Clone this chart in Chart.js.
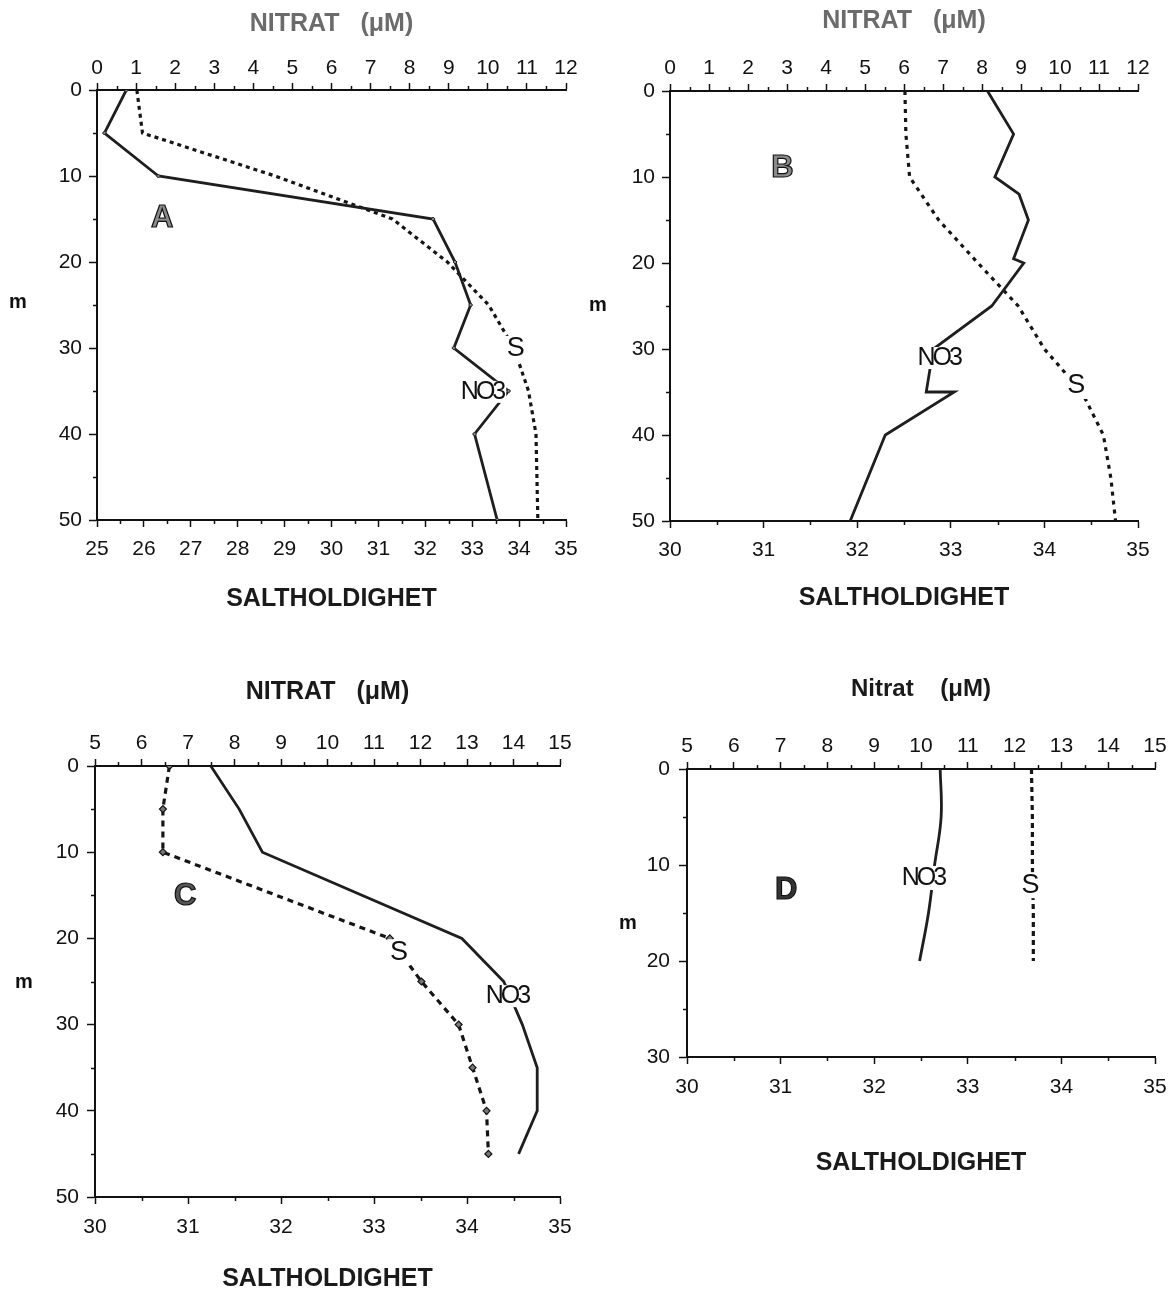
<!DOCTYPE html>
<html>
<head>
<meta charset="utf-8">
<script src="https://cdn.jsdelivr.net/npm/chart.js@4.4.1/dist/chart.umd.min.js"></script>
<style>
  html,body{margin:0;padding:0;background:#fff;}
  body{width:1172px;height:1292px;position:relative;overflow:hidden;}
  canvas{position:absolute;}
  #cA{left:0;top:0;}
  #cB{left:590px;top:0;}
  #cC{left:0;top:640px;}
  #cD{left:590px;top:640px;}
</style>
</head>
<body>
<canvas id="cA" width="590" height="640"></canvas>
<canvas id="cB" width="582" height="640"></canvas>
<canvas id="cC" width="590" height="652"></canvas>
<canvas id="cD" width="582" height="652"></canvas>
<script>
// ---------- DATA ----------
// Panel A
const depthA_NO3 = [0, 5, 10, 15, 20, 25, 30, 35, 40, 50];
const nitrateA   = [0.75, 0.19, 1.57, 8.6, 9.16, 9.56, 9.13, 10.53, 9.66, 10.24];
const depthA_S   = [0, 5, 10, 15, 20, 25, 30, 35, 40, 45, 50];
const salinityA  = [25.85, 25.97, 28.8, 31.3, 32.47, 33.35, 33.89, 34.2, 34.36, 34.38, 34.4];
// Panel B
const depthB_NO3 = [0, 5, 10, 12, 15, 19.5, 20, 25, 30, 35, 35, 40, 50];
const nitrateB   = [8.14, 8.81, 8.33, 8.95, 9.19, 8.81, 9.07, 8.25, 6.75, 6.57, 7.29, 5.52, 4.62];
const depthB_S   = [0, 5, 10, 15, 20, 25, 30, 35, 40, 45, 50];
const salinityB  = [32.51, 32.52, 32.56, 32.87, 33.29, 33.72, 34.0, 34.4, 34.63, 34.71, 34.76];
// Panel C
const depthC_NO3 = [0, 5, 10, 20, 25, 30, 35, 40, 45];
const nitrateC   = [7.49, 8.1, 8.6, 12.89, 13.79, 14.19, 14.51, 14.51, 14.11];
const depthC_S   = [0, 5, 10, 20, 25, 30, 35, 40, 45];
const salinityC  = [30.8, 30.73, 30.73, 33.17, 33.51, 33.91, 34.06, 34.21, 34.23];
// Panel D
const depthD     = [0, 5, 10, 15, 20];
const nitrateD   = [10.41, 10.43, 10.29, 10.16, 9.97];
const salinityD  = [33.68, 33.69, 33.69, 33.7, 33.7];

// axis text
const nitrateTitleUpper = 'NITRAT   (\u03BCM)';
const nitrateTitleLower = 'Nitrat    (\u03BCM)';
const salinityTitle = 'SALTHOLDIGHET';
const depthTitle = 'm';

// ---------- helpers ----------
const FAMILY = '"Liberation Sans", Arial, Helvetica, sans-serif';
Chart.defaults.font.family = FAMILY;
const pts = (xs, ys) => xs.map((x, i) => ({x: x, y: ys[i]}));

const minorTicks = {
  id: 'minorTicks',
  afterDraw(chart) {
    const ctx = chart.ctx;
    ctx.save();
    ctx.strokeStyle = '#111';
    ctx.lineWidth = 1.5;
    Object.values(chart.scales).forEach(sc => {
      const t = sc.ticks;
      for (let i = 0; i < t.length - 1; i++) {
        const v = (t[i].value + t[i + 1].value) / 2;
        const p = Math.round(sc.getPixelForValue(v)) + 0.5;
        ctx.beginPath();
        if (sc.isHorizontal()) {
          const y0 = sc.position === 'top' ? sc.bottom : sc.top;
          const d = sc.position === 'top' ? -4 : 4;
          ctx.moveTo(p, y0); ctx.lineTo(p, y0 + d);
        } else {
          ctx.moveTo(sc.right, p); ctx.lineTo(sc.right - 4, p);
        }
        ctx.stroke();
      }
    });
    ctx.restore();
  }
};

const panelText = {
  id: 'panelText',
  afterDatasetsDraw(chart, args, opts) {
    const ctx = chart.ctx;
    const xs = chart.scales.xs, y = chart.scales.y;
    (opts.items || []).forEach(it => {
      ctx.save();
      ctx.font = it.font;
      if ('letterSpacing' in ctx) ctx.letterSpacing = it.spacing || '0px';
      const px = xs.getPixelForValue(it.x), py = y.getPixelForValue(it.y);
      const w = ctx.measureText(it.text).width;
      if (it.bg) {
        ctx.fillStyle = '#fff';
        ctx.fillRect(px - w / 2 - 3, py - it.bg / 2, w + 6, it.bg);
      }
      ctx.textAlign = 'center';
      ctx.textBaseline = 'middle';
      ctx.fillStyle = it.color || '#111';
      ctx.fillText(it.text, px, py);
      if (it.stroke) {
        ctx.strokeStyle = it.stroke;
        ctx.lineWidth = 1.2;
        ctx.strokeText(it.text, px, py);
      }
      ctx.restore();
    });
    if (opts.side) {
      ctx.save();
      ctx.font = 'bold 20px ' + FAMILY;
      ctx.fillStyle = '#111';
      ctx.textAlign = 'center';
      ctx.textBaseline = 'middle';
      ctx.fillText(opts.side.text, opts.side.x, y.getPixelForValue(opts.side.y));
      ctx.restore();
    }
  }
};

function makePanel(id, p) {
  const tickFont = {family: FAMILY, size: 21};
  const datasets = [
    {
      label: 'NO3', xAxisID: 'xn', yAxisID: 'y',
      data: pts(p.nitrate, p.depthN),
      showLine: true, borderColor: '#1e1e1e', borderWidth: 2.8,
      tension: p.tensionN || 0,
      pointRadius: p.nPointR || 0, pointStyle: 'rectRot',
      pointBackgroundColor: '#888', pointBorderColor: '#222', pointBorderWidth: 1
    },
    {
      label: 'S', xAxisID: 'xs', yAxisID: 'y',
      data: pts(p.salinity, p.depthS),
      showLine: true, borderColor: '#151515', borderWidth: 3.2,
      borderDash: p.dash, tension: 0,
      pointRadius: p.sPointR || 0, pointStyle: 'rectRot',
      pointBackgroundColor: '#777', pointBorderColor: '#111', pointBorderWidth: 1.2
    }
  ];
  return new Chart(document.getElementById(id), {
    type: 'scatter',
    data: {datasets},
    plugins: [minorTicks, panelText],
    options: {
      responsive: false,
      animation: false,
      devicePixelRatio: 1,
      layout: {padding: {left: 0, top: 0, right: p.padR, bottom: 0}},
      plugins: {
        legend: {display: false},
        tooltip: {enabled: false},
        panelText: {items: p.labels, side: {text: depthTitle, x: p.mX, y: p.mY}}
      },
      scales: {
        xn: {
          type: 'linear', position: 'top', min: p.nMin, max: p.nMax,
          ticks: {stepSize: 1, autoSkip: false, maxRotation: 0, padding: p.topTickPad, font: tickFont, color: '#111'},
          grid: {drawOnChartArea: false, drawTicks: true, tickLength: 7, tickWidth: 1.5, tickColor: '#111'},
          border: {display: true, width: 2, color: '#111'},
          title: {display: true, text: p.topTitle, color: p.topTitleColor,
                  font: {family: FAMILY, size: p.topTitleSize, weight: 'bold', lineHeight: 1},
                  padding: {top: p.topTitlePad, bottom: 0}},
          afterFit: s => { s.height = p.topH; s.paddingLeft = 0; s.paddingRight = 0; }
        },
        xs: {
          type: 'linear', position: 'bottom', min: p.sMin, max: p.sMax,
          ticks: {stepSize: 1, autoSkip: false, maxRotation: 0, padding: p.botTickPad, font: tickFont, color: '#111'},
          grid: {drawOnChartArea: false, drawTicks: true, tickLength: 7, tickWidth: 1.5, tickColor: '#111'},
          border: {display: true, width: 2, color: '#111'},
          title: {display: true, text: salinityTitle, color: '#1a1a1a',
                  font: {family: FAMILY, size: 25, weight: 'bold', lineHeight: 1},
                  padding: {top: 0, bottom: p.botTitlePad}},
          afterFit: s => { s.height = p.botH; s.paddingLeft = 0; s.paddingRight = 0; }
        },
        y: {
          type: 'linear', position: 'left', reverse: true, min: 0, max: p.yMax,
          ticks: {stepSize: 10, padding: p.yTickPad, font: tickFont, color: '#111'},
          grid: {drawOnChartArea: false, drawTicks: true, tickLength: 8, tickWidth: 1.5, tickColor: '#111'},
          border: {display: true, width: 2, color: '#111'},
          afterFit: s => { s.width = p.yW; s.paddingTop = 0; s.paddingBottom = 0; }
        }
      }
    }
  });
}

const letterFont = 'bold 31px ' + FAMILY;
const sFont = '27px ' + FAMILY;
const noFont = '25px ' + FAMILY;

makePanel('cA', {
  nitrate: nitrateA, depthN: depthA_NO3, salinity: salinityA, depthS: depthA_S,
  nMin: 0, nMax: 12, sMin: 25, sMax: 35, yMax: 50,
  yW: 97, topH: 90, botH: 120, padR: 24,
  topTickPad: 2.5, botTickPad: 9.5, yTickPad: 7,
  topTitle: nitrateTitleUpper, topTitleColor: '#6b6b6b', topTitleSize: 25, topTitlePad: 11.5, botTitlePad: 28,
  dash: [4, 4], nPointR: 2,
  mX: 18, mY: 24.7,
  labels: [
    {text: 'A', x: 26.39, y: 14.9, font: letterFont, color: '#8a8a8a', stroke: '#111'},
    {text: 'S', x: 33.93, y: 30.1, font: sFont, bg: 26},
    {text: 'NO3', x: 33.21, y: 35.1, font: noFont, spacing: '-3px', bg: 22}
  ]
});

makePanel('cB', {
  nitrate: nitrateB, depthN: depthB_NO3, salinity: salinityB, depthS: depthB_S,
  nMin: 0, nMax: 12, sMin: 30, sMax: 35, yMax: 50,
  yW: 80, topH: 91, botH: 119, padR: 34,
  topTickPad: 3, botTickPad: 9.5, yTickPad: 7,
  topTitle: nitrateTitleUpper, topTitleColor: '#6b6b6b', topTitleSize: 25, topTitlePad: 9, botTitlePad: 29.5,
  dash: [4, 5],
  mX: 8, mY: 24.9,
  labels: [
    {text: 'B', x: 31.2, y: 8.95, font: letterFont, color: '#8a8a8a', stroke: '#111'},
    {text: 'NO3', x: 32.87, y: 31.05, font: noFont, spacing: '-3px', bg: 22},
    {text: 'S', x: 34.34, y: 34.3, font: sFont, bg: 26}
  ]
});

makePanel('cC', {
  nitrate: nitrateC, depthN: depthC_NO3, salinity: salinityC, depthS: depthC_S,
  nMin: 5, nMax: 15, sMin: 30, sMax: 35, yMax: 50,
  yW: 95, topH: 126, botH: 95, padR: 30,
  topTickPad: 3.5, botTickPad: 10.5, yTickPad: 8,
  topTitle: nitrateTitleUpper, topTitleColor: '#1a1a1a', topTitleSize: 25, topTitlePad: 40, botTitlePad: 0.5,
  dash: [6, 5], sPointR: 3.5,
  mX: 24, mY: 25.1,
  labels: [
    {text: 'C', x: 30.97, y: 15.1, font: letterFont, color: '#555', stroke: '#111'},
    {text: 'S', x: 33.27, y: 21.6, font: sFont, bg: 26},
    {text: 'NO3', x: 34.43, y: 26.7, font: noFont, spacing: '-3px', bg: 22}
  ]
});

makePanel('cD', {
  nitrate: nitrateD, depthN: depthD, salinity: salinityD, depthS: depthD,
  nMin: 5, nMax: 15, sMin: 30, sMax: 35, yMax: 30,
  yW: 97, topH: 129, botH: 235, padR: 17,
  topTickPad: 3.5, botTickPad: 10.5, yTickPad: 9,
  topTitle: nitrateTitleLower, topTitleColor: '#1a1a1a', topTitleSize: 24, topTitlePad: 37, botTitlePad: 116,
  dash: [5, 4], tensionN: 0.4,
  mX: 38, mY: 16.1,
  labels: [
    {text: 'D', x: 31.06, y: 12.7, font: letterFont, color: '#333', stroke: '#111'},
    {text: 'NO3', x: 32.52, y: 11.35, font: noFont, spacing: '-3px', bg: 24},
    {text: 'S', x: 33.67, y: 12.1, font: sFont, bg: 26}
  ]
});
</script>
</body>
</html>
